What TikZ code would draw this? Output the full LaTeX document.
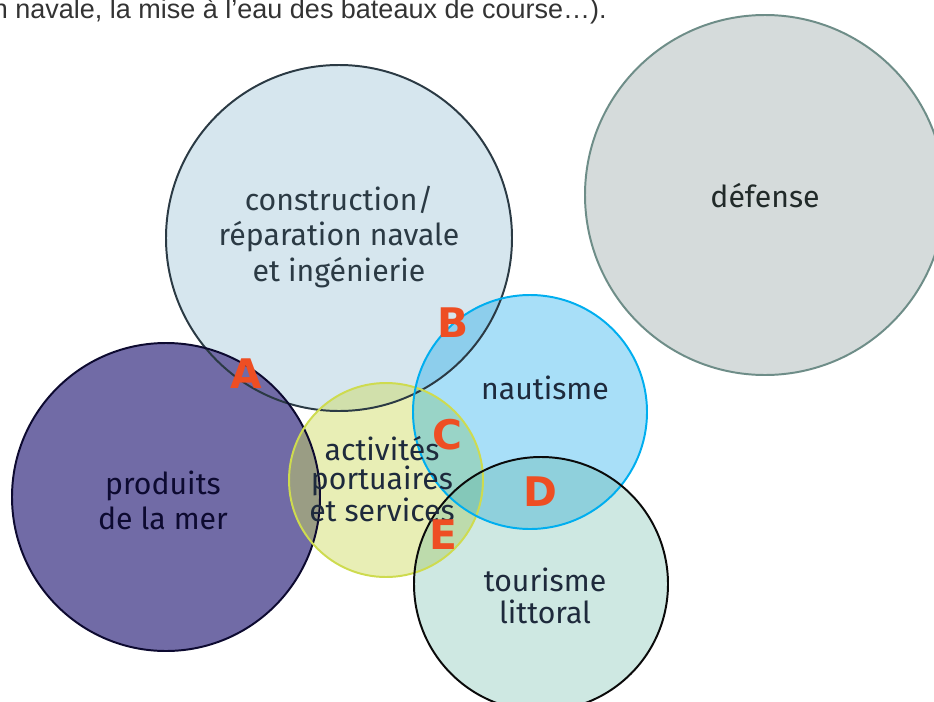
\documentclass[tikz,border=0pt]{standalone}
\usepackage{fontspec}
\setmainfont{Fira Sans}
\newfontfamily\textefont{Liberation Sans}
\newfontfamily\lettrefont{DejaVu Sans}
\usepackage{tikz}
\definecolor{cons}{HTML}{D6E6EE}
\definecolor{consl}{HTML}{2B3A44}
\definecolor{defe}{HTML}{D5DBDB}
\definecolor{defel}{HTML}{6E8D88}
\definecolor{prod}{HTML}{716BA6}
\definecolor{prodl}{HTML}{0D0A30}
\definecolor{port}{HTML}{CCDA5B}
\definecolor{portl}{HTML}{CEDB4F}
\definecolor{naut}{HTML}{06A3EA}
\definecolor{nautl}{HTML}{00AEEF}
\definecolor{tour}{HTML}{4FAB96}
\definecolor{tourl}{HTML}{0A0A0A}
\definecolor{lettre}{HTML}{EE4E23}
\definecolor{pag}{HTML}{1E2A3C}
\tikzset{
  etiquette/.style={align=center, text=pag, font=\fontsize{21.5}{25}\selectfont},
  zone/.style={text=lettre, font=\lettrefont\fontsize{29}{29}\selectfont\bfseries},
  bord/.style={line width=1.4pt}
}

\begin{document}
\begin{tikzpicture}
			\useasboundingbox (0,0) rectangle (23.35,-17.55);
			\clip (0,0) rectangle (23.35,-17.55);

			% fonds des cercles
			\fill[cons] (8.475,-5.95) circle (4.325);
			\fill[defe] (19.125,-4.875) circle (4.5);
			\fill[prod] (4.15,-12.425) circle (3.85);
			\fill[port, fill opacity=0.45] (9.65,-12.0) circle (2.425);
			\fill[naut, fill opacity=0.35] (13.25,-10.3) circle (2.925);
			\fill[tour, fill opacity=0.28] (13.525,-14.6) circle (3.175);

			% contours
			\draw[bord, consl] (8.475,-5.95) circle (4.325);
			\draw[bord, defel] (19.125,-4.875) circle (4.5);
			\draw[bord, prodl] (4.15,-12.425) circle (3.85);
			\draw[bord, portl] (9.65,-12.0) circle (2.425);
			\draw[bord, nautl] (13.25,-10.3) circle (2.925);
			\draw[bord, tourl] (13.525,-14.6) circle (3.175);

			\node[anchor=base west, text=black!80] (legende) at (-0.3,-0.45) {\textefont\fontsize{19.2}{22}\selectfont n navale, la mise à l’eau des bateaux de course…).};

			\node[etiquette, text=consl] (construction) at (8.475,-5.925) {construction/\\réparation navale\\et ingénierie};
			\node[etiquette, text=defel!30!black] (defense) at (19.125,-4.9) {défense};
			\node[etiquette] (nautisme) at (13.625,-9.7) {nautisme};
			\node[etiquette, text=prodl] (produits) at (4.075,-12.5) {produits\\de la mer};
			\node[etiquette, font=\fontsize{21.5}{20.6}\selectfont] (activites) at (9.55,-11.975) {activités\\portuaires\\et services};
			\node[etiquette, font=\fontsize{21.5}{22.7}\selectfont] (tourisme) at (13.625,-14.9) {tourisme\\littoral};

			\node[zone] (A) at (6.15,-9.35) {A};
			\node[zone] (B) at (11.325,-8.075) {B};
			\node[zone] (C) at (11.175,-10.875) {C};
			\node[zone] (D) at (13.5,-12.3) {D};
			\node[zone] (E) at (11.075,-13.375) {E};
		\end{tikzpicture}
\end{document}
